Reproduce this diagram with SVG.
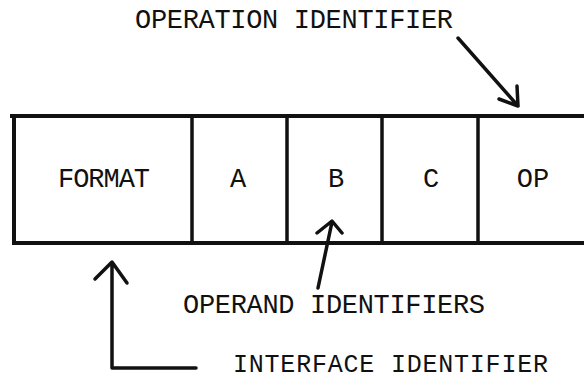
<svg xmlns="http://www.w3.org/2000/svg" width="584" height="381" viewBox="0 0 584 381">
<style>
text{font-family:"Liberation Mono","DejaVu Sans Mono",monospace;font-size:27px;fill:#111}
.c{text-anchor:middle}
.box{fill:none;stroke:#111;stroke-width:4}
.div{stroke:#111;stroke-width:3.5}
.conn{fill:none;stroke:#111;stroke-width:3.5;stroke-linecap:round;stroke-linejoin:round}
</style>
<rect width="584" height="381" fill="#fff"/>
<g id="word">
<path class="box" d="M590 116 H10 M14 116 V243 H590"/>
</g>
<g id="format"><text class="c" x="104" y="187" textLength="92">FORMAT</text></g>
<g id="a"><line class="div" x1="192" y1="116" x2="192" y2="245"/><text class="c" x="238" y="187">A</text></g>
<g id="b"><line class="div" x1="287" y1="116" x2="287" y2="245"/><text class="c" x="336" y="187">B</text></g>
<g id="c"><line class="div" x1="382" y1="116" x2="382" y2="245"/><text class="c" x="431" y="187">C</text></g>
<g id="op"><line class="div" x1="478" y1="116" x2="478" y2="245"/><text class="c" x="533" y="187">OP</text></g>
<g id="labels">
<text x="135" y="28" textLength="318">OPERATION IDENTIFIER</text>
<text x="183" y="313" textLength="302">OPERAND IDENTIFIERS</text>
<text x="233" y="372" textLength="315" style="font-size:25px">INTERFACE IDENTIFIER</text>
</g>
<g id="connectors">
<path class="conn" d="M458 38 L518 106 M517 86 L518 106 L499 99"/>
<path class="conn" d="M318 288 L332 222 M317 233 L332 221 L342 233"/>
<path class="conn" d="M196 368 H112 V263 M95 279 L112 262 L127 283"/>
</g>
</svg>
